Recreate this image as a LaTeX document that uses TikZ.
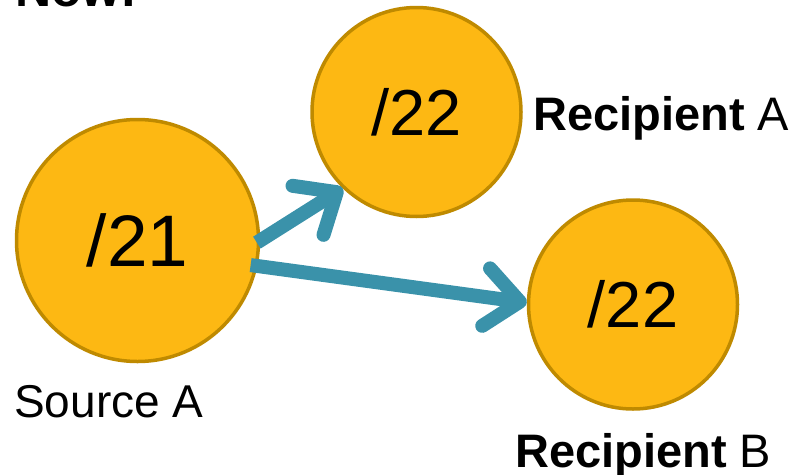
\documentclass[tikz,border=0pt]{standalone}
\usepackage{fontspec}
\setmainfont{Liberation Sans}
\usetikzlibrary{arrows.meta}
\definecolor{fillY}{HTML}{FDB813}
\definecolor{borderY}{HTML}{BF8A00}
\definecolor{arrT}{HTML}{3A92AA}
\tikzset{
  circ/.style={circle, draw=borderY, fill=fillY, line width=3.5pt, inner sep=0pt},
  lbl/.style={anchor=base west, inner sep=0pt, font=\fontsize{46}{46}\selectfont},
  arr/.style={draw=arrT, line width=14pt,
    -{Straight Barb[length=34pt, width=58pt, round]}},
}
\begin{document}
\begin{tikzpicture}[x=1pt, y=-1pt]
\useasboundingbox (0,0) rectangle (794,474);
\node[lbl, font=\fontsize{50}{50}\selectfont\bfseries] (now) at (15,6) {Now:};
\node[circ, minimum size=242pt, font=\fontsize{73}{73}\selectfont] (src) at (137.5,240.5) {/21};
\node[circ, minimum size=209pt, font=\fontsize{65}{65}\selectfont] (ra) at (416.5,112) {/22};
\node[circ, minimum size=209pt, font=\fontsize{65}{65}\selectfont] (rb) at (633,304.5) {/22};
\node[lbl, font=\fontsize{47}{47}\selectfont] (la) at (533,130) {\textbf{Recipient} A};
\node[lbl, font=\fontsize{47}{47}\selectfont] (lb) at (515,467) {\textbf{Recipient} B};
\node[lbl] (ls) at (14,417) {Source A};
\draw[arr, shorten <=-4pt] (src.0) -- (ra.226);
\draw[arr, shorten <=-7pt] (src.348) -- (rb.179);
\end{tikzpicture}
\end{document}
